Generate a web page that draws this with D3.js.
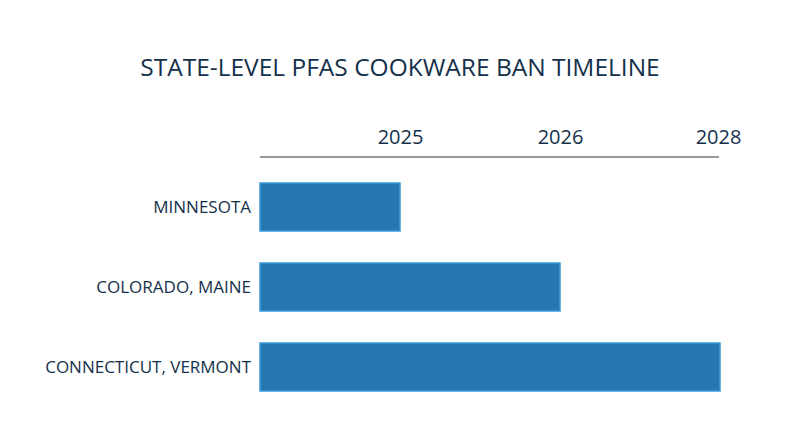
<!DOCTYPE html>
<html>
<head>
<meta charset="utf-8">
<script src="https://cdn.jsdelivr.net/npm/d3@7"></script>
<style>
  html, body { margin: 0; padding: 0; background: #ffffff; }
  svg { display: block; font-family: "Open Sans", sans-serif; }
</style>
</head>
<body>
<svg id="chart" width="800" height="447"></svg>
<script>
// ---- data ----
const title = "STATE-LEVEL PFAS COOKWARE BAN TIMELINE";
const categories = ["MINNESOTA", "COLORADO, MAINE", "CONNECTICUT, VERMONT"];
const banYears = ["2025", "2026", "2028"];          // value of each category
const tickLabels = ["2025", "2026", "2028"];         // axis milestones (ordered steps)

// ---- layout ----
const W = 800, H = 447;
const margin = { left: 260, right: 80, top: 157, bottom: 40 };
const svg = d3.select("#chart");

// x: ordered milestone steps (each milestone one step apart, bars start before the first one)
const x = d3.scaleLinear()
  .domain([-0.875, tickLabels.length - 1])
  .range([margin.left, W - margin.right]);
const stepOf = y => tickLabels.indexOf(y);

const yBand = d3.scaleBand()
  .domain(categories)
  .range([167, 407])
  .paddingInner(0.4)
  .paddingOuter(0.2);

// title
svg.append("text")
  .attr("x", W / 2)
  .attr("y", 76)
  .attr("text-anchor", "middle")
  .attr("fill", "#14304b")
  .style("font-size", "24.5px")
  .text(title);

// top axis
const axis = d3.axisTop(x)
  .tickValues(tickLabels.map((d, i) => i))
  .tickFormat(i => tickLabels[i])
  .tickSize(0)
  .tickPadding(13);

const gAxis = svg.append("g")
  .attr("transform", `translate(0,${margin.top})`)
  .call(axis);
gAxis.select(".domain")
  .attr("d", `M${x.range()[0]},0H${x.range()[1] - 1}`)
  .attr("stroke", "#999999")
  .attr("stroke-width", 2);
gAxis.selectAll(".tick text")
  .attr("fill", "#14304b")
  .attr("dx", (d, i) => i === tickLabels.length - 1 ? -2 : 0)
  .style("font-family", "'Open Sans', sans-serif")
  .style("font-size", "20px");

// bars
svg.append("g")
  .selectAll("rect")
  .data(categories)
  .join("rect")
  .attr("x", x.range()[0])
  .attr("y", d => yBand(d))
  .attr("width", (d, i) => x(stepOf(banYears[i])) - x.range()[0])
  .attr("height", yBand.bandwidth())
  .attr("fill", "#2677b2")
  .attr("stroke", "#3d9bd8")
  .attr("stroke-width", 1.5);

// category labels
svg.append("g")
  .selectAll("text")
  .data(categories)
  .join("text")
  .attr("x", x.range()[0] - 9)
  .attr("y", d => yBand(d) + yBand.bandwidth() / 2)
  .attr("dy", "0.35em")
  .attr("text-anchor", "end")
  .attr("fill", "#14304b")
  .style("font-size", "17px")
  .text(d => d);
</script>
</body>
</html>
